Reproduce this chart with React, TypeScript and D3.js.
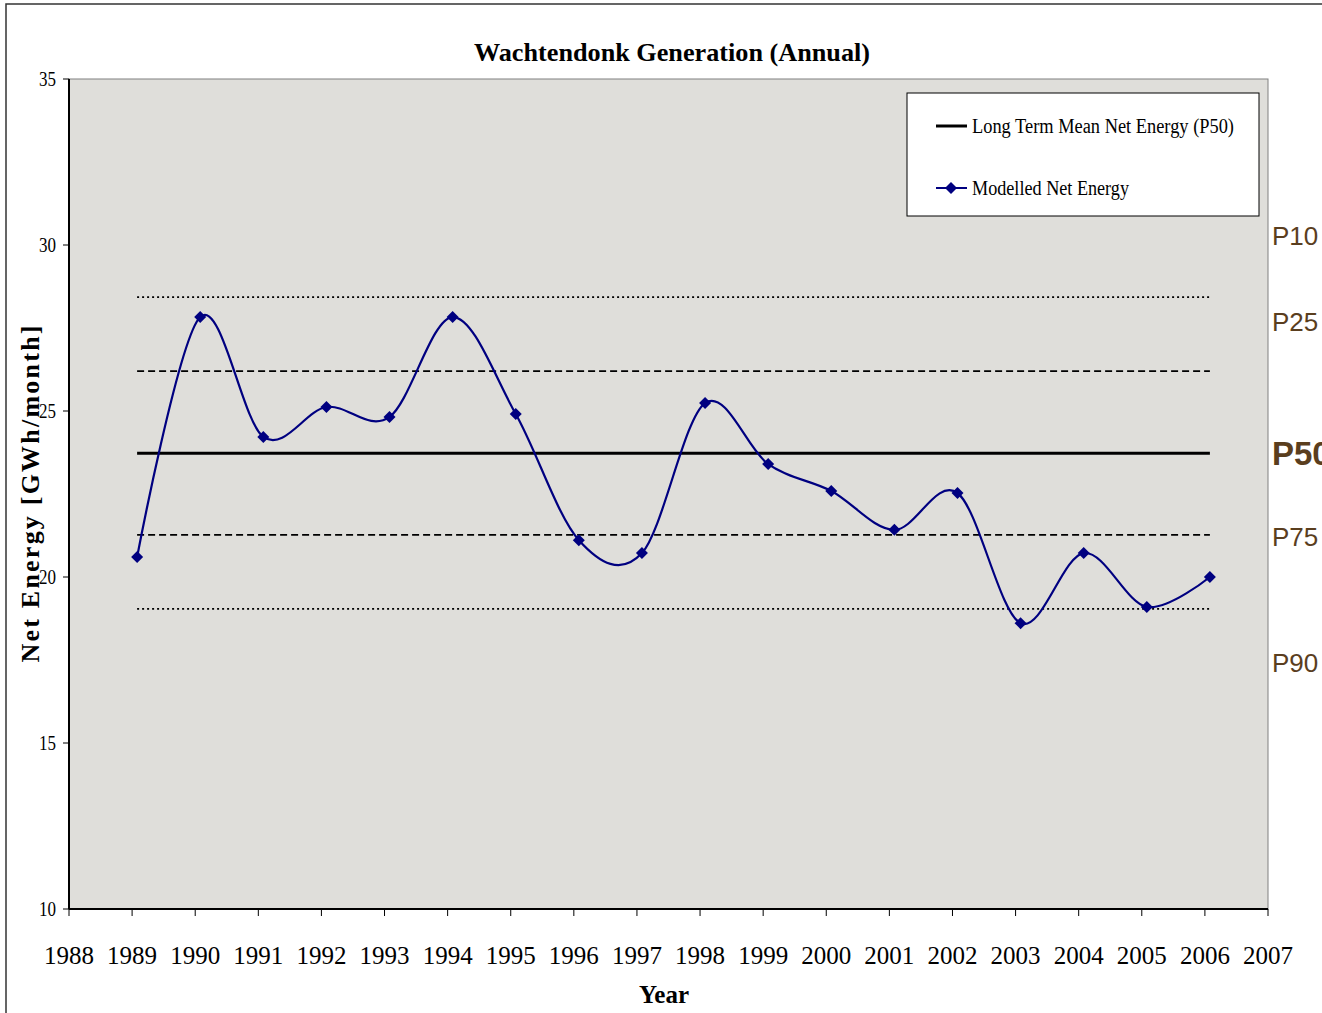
import React from "react";
import * as d3 from "d3";

const years = [1989, 1990, 1991, 1992, 1993, 1994, 1995, 1996, 1997, 1998, 1999, 2000, 2001, 2002, 2003, 2004, 2005, 2006];
const netEnergy = [20.6, 27.83, 24.22, 25.12, 24.82, 27.83, 24.91, 21.11, 20.72, 25.24, 23.4, 22.59, 21.42, 22.53, 18.61, 20.72, 19.1, 20.0];
const xTicks = d3.range(1988, 2008);
const yTicks = [10, 15, 20, 25, 30, 35];
const refNames = ["P10", "P25", "P50", "P75", "P90"];
const refValues = [28.43, 26.2, 23.73, 21.27, 19.04];
const refLabelValues = [30.27, 27.67, 23.73, 21.2, 17.4];

const W = 1322;
const H = 1013;
const left = 69, right = 1268, top = 79, bottom = 909;
const ptOffset = 5;

export default function App() {
  const x = d3.scaleLinear().domain([1988, 2007]).range([left, right]);
  const y = d3.scaleLinear().domain([10, 35]).range([bottom, top]);
  const data = years.map((yr, i) => ({ yr, v: netEnergy[i] }));
  const line = d3
    .line<{ yr: number; v: number }>()
    .x((d) => x(d.yr) + ptOffset)
    .y((d) => y(d.v))
    .curve(d3.curveCardinal.tension(0));
  const x0 = x(years[0]) + ptOffset;
  const x1 = x(years[years.length - 1]) + ptOffset;
  const serif = "'Liberation Serif', 'Times New Roman', serif";
  const sans = "'Liberation Sans', Arial, sans-serif";
  const diamond = (cx: number, cy: number, r = 6) =>
    `M${cx},${cy - r}L${cx + r},${cy}L${cx},${cy + r}L${cx - r},${cy}Z`;
  const refStyle = (name: string) => {
    if (name === "P50") return { w: 3, dash: undefined };
    if (name === "P25" || name === "P75") return { w: 1.8, dash: "7,4" };
    return { w: 1.8, dash: "2,3" };
  };
  return (
    <svg
      width={W}
      height={H}
      style={{ position: "absolute", left: 0, top: 0, background: "#fff" }}
    >
      <rect x={6} y={4} width={1340} height={1040} fill="#fff" stroke="#333" strokeWidth={1.5} />
      <text x={672} y={61} textAnchor="middle" fontFamily={serif} fontWeight="bold" fontSize={26} textLength={396} lengthAdjust="spacingAndGlyphs">
        Wachtendonk Generation (Annual)
      </text>
      {/* plot area */}
      <rect x={left} y={top} width={right - left} height={bottom - top} fill="#dfdeda" stroke="#808080" strokeWidth={1} />
      <line x1={left} y1={top} x2={left} y2={bottom} stroke="#000" strokeWidth={2} />
      <line x1={left} y1={bottom} x2={right} y2={bottom} stroke="#000" strokeWidth={2} />
      {/* y ticks */}
      {yTicks.map((t) => (
        <g key={t}>
          <line x1={left - 6} x2={left} y1={y(t)} y2={y(t)} stroke="#000" strokeWidth={1} />
          <text x={56} y={y(t) + 7} textAnchor="end" fontFamily={serif} fontSize={20} textLength={17} lengthAdjust="spacingAndGlyphs">
            {t}
          </text>
        </g>
      ))}
      {/* x ticks */}
      {xTicks.map((t) => (
        <g key={t}>
          <line x1={x(t)} x2={x(t)} y1={bottom} y2={bottom + 7} stroke="#000" strokeWidth={1} />
          <text x={x(t)} y={964} textAnchor="middle" fontFamily={serif} fontSize={26} textLength={50} lengthAdjust="spacingAndGlyphs">
            {t}
          </text>
        </g>
      ))}
      <text x={664} y={1003} textAnchor="middle" fontFamily={serif} fontWeight="bold" fontSize={25}>
        Year
      </text>
      <text
        transform={`translate(39,494) rotate(-90)`}
        textAnchor="middle"
        fontFamily={serif}
        fontWeight="bold"
        fontSize={26}
        textLength={337}
        lengthAdjust="spacing"
      >
        Net Energy [GWh/month]
      </text>
      {/* reference lines */}
      {refNames.map((n, i) => {
        const s = refStyle(n);
        return (
          <line key={n} x1={x0} x2={x1} y1={y(refValues[i])} y2={y(refValues[i])} stroke="#000" strokeWidth={s.w} strokeDasharray={s.dash} />
        );
      })}
      {/* series */}
      <path d={line(data) || ""} fill="none" stroke="#000080" strokeWidth={2.2} />
      {data.map((d) => (
        <path key={d.yr} d={diamond(x(d.yr) + ptOffset, y(d.v))} fill="#000080" />
      ))}
      {/* right labels */}
      {refNames.map((n, i) =>
        n === "P50" ? (
          <text key={n} x={1272} y={y(refLabelValues[i]) + 12} fontFamily={sans} fontWeight="bold" fontSize={33} fill="#5a3e1e">
            {n}
          </text>
        ) : (
          <text key={n} x={1272} y={y(refLabelValues[i]) + 9} fontFamily={sans} fontSize={26} fill="#5a3e1e">
            {n}
          </text>
        )
      )}
      {/* legend */}
      <rect x={907} y={93} width={352} height={123} fill="#fff" stroke="#000" strokeWidth={1} />
      <line x1={936} x2={967} y1={126} y2={126} stroke="#000" strokeWidth={3} />
      <text x={972} y={133} fontFamily={serif} fontSize={20} textLength={262} lengthAdjust="spacingAndGlyphs">
        Long Term Mean Net Energy (P50)
      </text>
      <line x1={936} x2={967} y1={188} y2={188} stroke="#000080" strokeWidth={2} />
      <path d={diamond(951, 188)} fill="#000080" />
      <text x={972} y={195} fontFamily={serif} fontSize={20} textLength={157} lengthAdjust="spacingAndGlyphs">
        Modelled Net Energy
      </text>
    </svg>
  );
}
